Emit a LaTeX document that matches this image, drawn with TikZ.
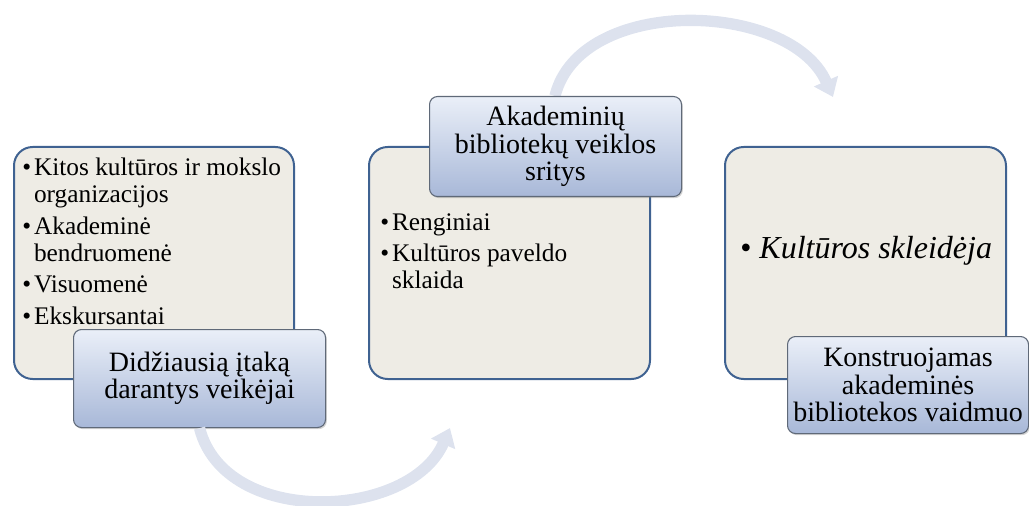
\documentclass[tikz,border=0pt]{standalone}
\usepackage{fontspec}
\setmainfont{Liberation Serif}
\usetikzlibrary{calc,arrows.meta,shadows}
\definecolor{boxfill}{RGB}{238,236,229}
\definecolor{boxline}{RGB}{63,98,145}
\definecolor{tabtop}{RGB}{234,239,248}
\definecolor{tabbot}{RGB}{168,184,216}
\definecolor{tabline}{RGB}{95,105,120}
\definecolor{flowcol}{RGB}{221,226,238}

\begin{document}
\begin{tikzpicture}[x=0.75pt,y=-0.75pt,
	bigbox/.style={draw=boxline,line width=1.5pt,fill=boxfill,rounded corners=14pt,anchor=north west,inner sep=0pt},
	tab/.style={draw=tabline,line width=0.8pt,top color=tabtop,bottom color=tabbot,rounded corners=6pt,anchor=north west,inner sep=0pt,align=center,
		drop shadow={opacity=0.35,shadow xshift=1pt,shadow yshift=-1.2pt},font=\fontsize{21}{20.6}\selectfont},
	list/.style={anchor=north west,inner sep=0pt,align=left,font=\fontsize{19}{20.5}\selectfont},
	flow/.style={flowcol,line width=8.5pt,-{Triangle[width=19pt,length=13pt]}}]
	\useasboundingbox (0,0) rectangle (1029,506);
	\def\bul{\textbullet\hspace{2.2pt}}
	\def\gap{\phantom{\textbullet}\hspace{2.2pt}}
	
	% three main boxes
	\node[bigbox,minimum width=210pt,minimum height=174pt] (box1) at (13,146) {};
	\node[bigbox,minimum width=210.75pt,minimum height=174pt] (box2) at (368,146) {};
	\node[bigbox,minimum width=210.75pt,minimum height=174pt] (box3) at (724,146) {};
	
	% arrow ends
	\coordinate (end1) at (450,428);
	\coordinate (end2) at (833,97);
	
	% lists
	\node[list] (list1) at ($(box1.north west)+(9,11.5)$) {\bul Kitos kultūros ir mokslo\\
		\gap organizacijos\\[3pt]
		\bul Akademinė\\
		\gap bendruomenė\\[3pt]
		\bul Visuomenė\\[3pt]
		\bul Ekskursantai};
	\node[list] (list2) at ($(box2.north west)+(12,67)$) {\bul Renginiai\\[3pt]
		\bul Kultūros paveldo\\
		\gap sklaida};
	\node[anchor=base west,inner sep=0pt,font=\fontsize{24}{28}\selectfont] (list3) at ($(box3.north west)+(16,112)$) {\textbullet\ \textit{Kultūros skleidėja}};
	
	% tabs and curved arrows
	\node[tab,minimum width=189pt,minimum height=73.5pt] (tab1) at (73,329) {Didžiausią įtaką\\darantys veikėjai};
	\draw[flow] (tab1.south) .. controls (225,528) and (410,520) .. (end1);
	\draw[flow] (555,96) .. controls (580,-5) and (790,0) .. (end2);
	\node[tab,minimum width=189pt,minimum height=75pt] (tab2) at (429,96) {Akademinių\\bibliotekų veiklos\\sritys};
	\node[tab,minimum width=180.75pt,minimum height=72.75pt] (tab3) at (787,336) {Konstruojamas\\akademinės\\bibliotekos vaidmuo};
\end{tikzpicture}
\end{document}
